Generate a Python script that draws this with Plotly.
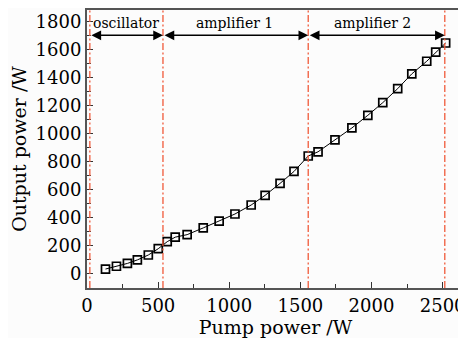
import plotly.graph_objects as go

pump_power = [130, 207, 284, 354, 431, 501, 564, 620, 704, 817, 929, 1040,
              1154, 1252, 1357, 1455, 1555, 1624, 1743, 1862, 1974, 2079,
              2184, 2283, 2388, 2451, 2521]
output_power = [35, 55, 75, 100, 135, 180, 230, 262, 280, 328, 377, 427,
                491, 560, 645, 730, 840, 870, 955, 1040, 1130, 1220,
                1320, 1425, 1515, 1580, 1645]

stage_bounds = [20, 534, 1555, 2515]
stage_names = ["oscillator", "amplifier 1", "amplifier 2"]
stage_label_x = [277, 1040, 2010]

x_ticks = [0, 500, 1000, 1500, 2000, 2500]
y_ticks = [0, 200, 400, 600, 800, 1000, 1200, 1400, 1600, 1800]

FONT = "DejaVu Serif"
RED = "#f05a3a"

fig = go.Figure()
fig.add_trace(go.Scatter(
    x=pump_power, y=output_power, mode="lines+markers",
    line=dict(color="black", width=1),
    marker=dict(symbol="square-open", size=8, color="black", line=dict(width=1.7)),
    showlegend=False,
))

for xb in stage_bounds:
    fig.add_shape(type="line", xref="x", yref="paper", x0=xb, x1=xb, y0=0, y1=1,
                  line=dict(color=RED, width=1.3, dash="7px,2.5px,2px,2.5px"))

arrow_y = 1700
label_y = 1785
for i, name in enumerate(stage_names):
    x0, x1 = stage_bounds[i], stage_bounds[i + 1]
    fig.add_annotation(x=x1, y=arrow_y, ax=x0, ay=arrow_y, xref="x", yref="y",
                       axref="x", ayref="y", text="", showarrow=True,
                       arrowhead=2, startarrowhead=2, arrowside="end+start",
                       arrowsize=1.3, startarrowsize=1.3,
                       arrowwidth=1.5, arrowcolor="black")
    fig.add_annotation(x=stage_label_x[i], y=label_y, xref="x", yref="y",
                       text=name, showarrow=False,
                       font=dict(family=FONT, size=14, color="black"))

axis_common = dict(
    showline=True, linecolor="#555", linewidth=2, mirror=True,
    ticks="inside", ticklen=6, tickwidth=1.2, tickcolor="#333",
    showgrid=False, zeroline=False,
    tickfont=dict(family=FONT, size=18, color="black"),
)

fig.update_xaxes(range=[0, 2650], tickvals=x_ticks,
                 minor=dict(dtick=250, ticks="inside", ticklen=4, tickcolor="#333"),
                 title=dict(text="Pump power /W", font=dict(family=FONT, size=19, color="black"),
                            standoff=2),
                 **axis_common)
fig.update_yaxes(range=[-100, 1880], tickvals=y_ticks,
                 minor=dict(dtick=100, ticks="inside", ticklen=4, tickcolor="#333"),
                 title=dict(text="Output power /W", font=dict(family=FONT, size=19, color="black"),
                            standoff=4),
                 **axis_common)

fig.update_layout(
    width=458, height=330,
    margin=dict(l=79, r=2, t=2, b=50, autoexpand=False),
    paper_bgcolor="#fcfcfc", plot_bgcolor="#fcfcfc",
)

fig.write_html("out.html")
